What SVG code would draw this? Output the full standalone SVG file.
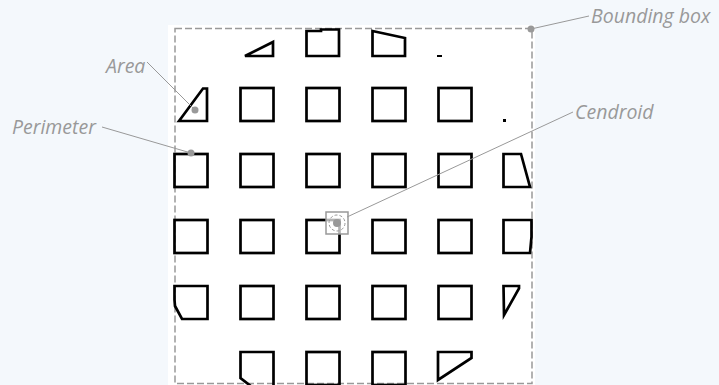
<svg xmlns="http://www.w3.org/2000/svg" width="719" height="385" viewBox="0 0 719 385">
<style>
.s{fill:none;stroke:#000;stroke-width:2.7;stroke-linejoin:miter}
.lead{fill:none;stroke:#999;stroke-width:1}
.lbl{font-family:"Open Sans","Noto Sans",sans-serif;font-style:italic;font-size:19.5px;fill:#999}
.dot{fill:#999}
</style>
<defs>
<rect id="sq" width="33" height="33" class="s"/>
</defs>
<rect width="719" height="385" fill="#f4f8fc"/>
<rect x="168" y="25" width="367" height="360" fill="#fff"/>
<g id="bbox"><rect x="175" y="28.5" width="357" height="355" fill="none" stroke="#999" stroke-width="1.5" stroke-dasharray="7 3"/></g>
<g id="shapes">
<g id="r1">
<polygon class="s" points="245,56 273,42 273,56"/>
<polygon class="s" points="306.5,56 306.5,31 321,31 321,29.5 339,29.5 339,56"/>
<polygon class="s" points="372.5,31 405,38 405,56 372.5,56"/>
<rect x="437" y="55" width="5" height="2" fill="#000"/>
</g>
<g id="r2">
<polygon class="s" points="179,121 203,88.5 207,88.5 207,121"/>
<use href="#sq" x="240.5" y="88"/>
<use href="#sq" x="306.5" y="88"/>
<use href="#sq" x="372.5" y="88"/>
<use href="#sq" x="438.5" y="88"/>
<rect x="503" y="119" width="3" height="3" fill="#000"/>
</g>
<g id="r3">
<use href="#sq" x="174.5" y="154"/>
<use href="#sq" x="240.5" y="154"/>
<use href="#sq" x="306.5" y="154"/>
<use href="#sq" x="372.5" y="154"/>
<use href="#sq" x="438.5" y="154"/>
<polygon class="s" points="503.5,154 521,154 530,187 503.5,187"/>
</g>
<g id="r4">
<use href="#sq" x="174.5" y="220"/>
<use href="#sq" x="240.5" y="220"/>
<use href="#sq" x="306.5" y="220"/>
<use href="#sq" x="372.5" y="220"/>
<use href="#sq" x="438.5" y="220"/>
<polygon class="s" points="503.5,220 531.5,220 531.5,237 530,253 503.5,253"/>
</g>
<g id="r5">
<polygon class="s" points="174.5,286 207.5,286 207.5,319 182,319 175,306 174.5,300"/>
<use href="#sq" x="240.5" y="286"/>
<use href="#sq" x="306.5" y="286"/>
<use href="#sq" x="372.5" y="286"/>
<use href="#sq" x="438.5" y="286"/>
<polygon class="s" points="503.5,286 519,286 519,288.5 504,315"/>
</g>
<g id="r6">
<polygon class="s" points="240.5,352 273.5,352 273.5,387 252,387 240.5,378"/>
<use href="#sq" x="306.5" y="352"/>
<use href="#sq" x="372.5" y="352"/>
<polygon class="s" points="438,352 471.5,352 471.5,358 438,380"/>
</g>
</g>
<g id="centroid">
<rect x="326" y="212" width="22" height="22" fill="#fff" fill-opacity="0.7" stroke="#999" stroke-width="1.5"/>
<circle cx="337" cy="223" r="8" fill="none" stroke="#999" stroke-width="1" stroke-dasharray="3 2"/>
<circle class="dot" cx="337" cy="223" r="4"/>
</g>
<g id="connectors">
<line class="lead" x1="147" y1="62" x2="195" y2="110"/>
<line class="lead" x1="102" y1="127" x2="191" y2="153"/>
<line class="lead" x1="531" y1="29" x2="589" y2="16"/>
<line class="lead" x1="347" y1="217" x2="573" y2="112"/>
</g>
<g id="dots">
<circle class="dot" cx="195" cy="110" r="3.5"/>
<circle class="dot" cx="191" cy="153" r="3.5"/>
<circle class="dot" cx="531" cy="29" r="3.5"/>
</g>
<g id="labels">
<text class="lbl" x="106" y="73">Area</text>
<text class="lbl" x="12" y="134">Perimeter</text>
<text class="lbl" x="591" y="23">Bounding box</text>
<text class="lbl" x="575" y="119">Cendroid</text>
</g>
</svg>
